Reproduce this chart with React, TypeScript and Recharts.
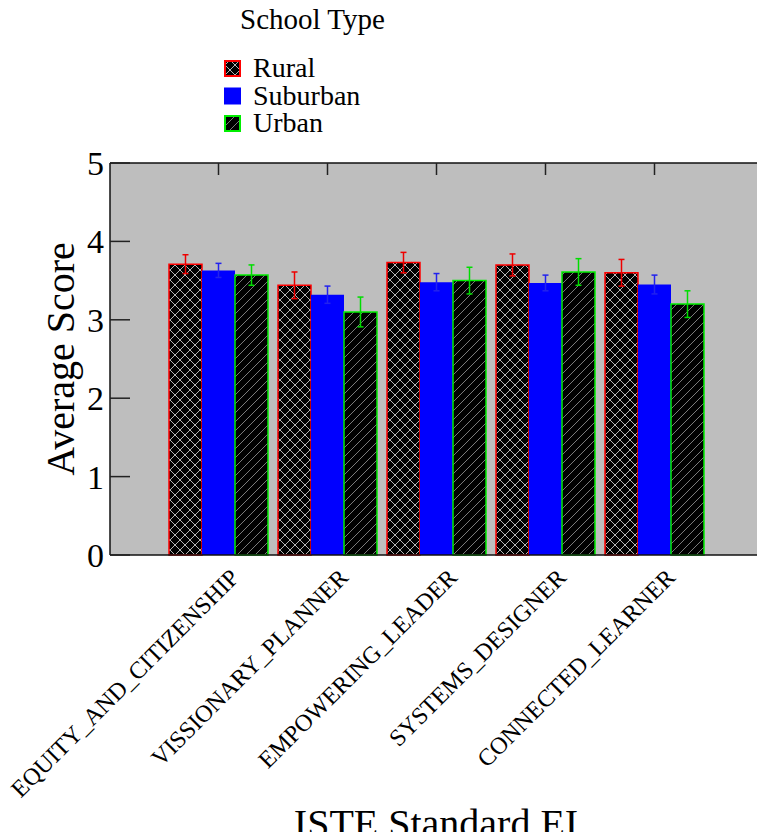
import { BarChart, Bar, XAxis, YAxis, CartesianGrid, ErrorBar, Legend } from "recharts";

const categories = [
  "EQUITY_AND_CITIZENSHIP",
  "VISSIONARY_PLANNER",
  "EMPOWERING_LEADER",
  "SYSTEMS_DESIGNER",
  "CONNECTED_LEARNER",
];
const rural = [3.71, 3.44, 3.73, 3.7, 3.6];
const ruralErr = [0.12, 0.17, 0.13, 0.14, 0.17];
const suburban = [3.63, 3.32, 3.48, 3.47, 3.45];
const suburbanErr = [0.09, 0.11, 0.11, 0.1, 0.12];
const urban = [3.57, 3.1, 3.5, 3.61, 3.2];
const urbanErr = [0.13, 0.19, 0.17, 0.17, 0.17];
const yTicks = [0, 1, 2, 3, 4, 5];

const SERIF = '"Liberation Serif", "Times New Roman", Times, serif';

const data = categories.map((cat, i) => ({
  cat,
  Rural: rural[i],
  ruralErr: ruralErr[i],
  Suburban: suburban[i],
  suburbanErr: suburbanErr[i],
  Urban: urban[i],
  urbanErr: urbanErr[i],
}));

// swatch look for the legend, keyed by series name
const swatch: Record<string, { fill: string; stroke: string }> = {
  Rural: { fill: "url(#ruralPat)", stroke: "#ff0000" },
  Suburban: { fill: "#0000ff", stroke: "#0000ff" },
  Urban: { fill: "url(#urbanPat)", stroke: "#00ee00" },
};

const LeftTick = (props: any) => {
  const { x, y, payload } = props;
  return (
    <g>
      <line x1={x} x2={x + 20} y1={y} y2={y} stroke="#222" strokeWidth={1.5} />
      <text x={x - 6} y={y} dy="0.35em" textAnchor="end" fontSize={34} fontFamily={SERIF} fill="#000">
        {payload.value}
      </text>
    </g>
  );
};

const RightTick = (props: any) => {
  const { x, y } = props;
  return <line x1={x - 20} x2={x} y1={y} y2={y} stroke="#222" strokeWidth={1.5} />;
};

const TopTick = (props: any) => {
  const { x, y } = props;
  return <line x1={x} x2={x} y1={y} y2={y + 12} stroke="#222" strokeWidth={1.5} />;
};

const BottomTick = (props: any) => {
  const { x, y, payload } = props;
  const tx = x + 22;
  const ty = y + 24;
  return (
    <text
      x={tx}
      y={ty}
      transform={`rotate(-45, ${tx}, ${ty})`}
      textAnchor="end"
      fontSize={24}
      fontFamily={SERIF}
      fill="#000"
    >
      {payload.value}
    </text>
  );
};

const LegendBox = (props: any) => {
  const items = props.payload || [];
  return (
    <svg width={757} height={140} style={{ display: "block" }}>
      <text x={240} y={29} fontSize={29} fontFamily={SERIF} fill="#000">
        School Type
      </text>
      {items.map((it: any, i: number) => {
        const s = swatch[it.value];
        const top = 61 + i * 27.5;
        return (
          <g key={it.value}>
            <rect x={225} y={top} width={15} height={15} fill={s.fill} stroke={s.stroke} strokeWidth={2} />
            <text x={253} y={top + 16} fontSize={28} fontFamily={SERIF} fill="#000">
              {it.value}
            </text>
          </g>
        );
      })}
    </svg>
  );
};

export default function App() {
  return (
    <div style={{ position: "absolute", left: 0, top: 0, width: 757, height: 832, overflow: "hidden", background: "#fff" }}>
      <BarChart
        width={775}
        height={832}
        data={data}
        margin={{ top: 22, right: 0, bottom: 0, left: 0 }}
        barCategoryGap={5}
        barGap={0}
      >
        <defs>
          <pattern id="ruralPat" patternUnits="userSpaceOnUse" width={10} height={10}>
            <rect width={10} height={10} fill="#000" />
            <path d="M0,0 L10,10 M10,0 L0,10" stroke="#b4b4b4" strokeWidth={1} />
          </pattern>
          <pattern id="urbanPat" patternUnits="userSpaceOnUse" width={9} height={9}>
            <rect width={9} height={9} fill="#000" />
            <path d="M-2,2 L2,-2 M0,9 L9,0 M7,11 L11,7" stroke="#7a7a7a" strokeWidth={1} />
          </pattern>
        </defs>
        <CartesianGrid fill="#bebebe" horizontal={false} vertical={false} />
        <XAxis
          dataKey="cat"
          height={277}
          padding={{ left: 54, right: 54 }}
          interval={0}
          axisLine={{ stroke: "#111", strokeWidth: 1.5 }}
          tickLine={false}
          tickSize={0}
          tickMargin={0}
          tick={<BottomTick />}
        />
        <XAxis
          xAxisId="top"
          orientation="top"
          dataKey="cat"
          height={1}
          padding={{ left: 54, right: 54 }}
          interval={0}
          axisLine={{ stroke: "#111", strokeWidth: 1.5 }}
          tickLine={false}
          tickSize={0}
          tickMargin={0}
          tick={<TopTick />}
        />
        <YAxis
          width={110}
          domain={[0, 5]}
          ticks={yTicks}
          type="number"
          axisLine={{ stroke: "#111", strokeWidth: 1.5 }}
          tickLine={false}
          tickSize={0}
          tickMargin={0}
          tick={<LeftTick />}
        />
        <YAxis
          yAxisId="right"
          orientation="right"
          width={12}
          domain={[0, 5]}
          ticks={yTicks}
          type="number"
          axisLine={{ stroke: "#111", strokeWidth: 1.5 }}
          tickLine={false}
          tickSize={0}
          tickMargin={0}
          tick={<RightTick />}
        />
        <Legend
          layout="horizontal"
          verticalAlign="top"
          align="left"
          wrapperStyle={{ top: 0, left: 0, width: 757, height: 140 }}
          content={<LegendBox />}
        />
        <Bar dataKey="Rural" fill="url(#ruralPat)" stroke="#ff0000" strokeWidth={1.5} isAnimationActive={false}>
          <ErrorBar dataKey="ruralErr" width={3} stroke="#ee0000" strokeWidth={1.5} />
        </Bar>
        <Bar dataKey="Suburban" fill="#0000ff" isAnimationActive={false}>
          <ErrorBar dataKey="suburbanErr" width={3} stroke="#2222ee" strokeWidth={1.5} />
        </Bar>
        <Bar dataKey="Urban" fill="url(#urbanPat)" stroke="#00ee00" strokeWidth={1.5} isAnimationActive={false}>
          <ErrorBar dataKey="urbanErr" width={3} stroke="#00dd00" strokeWidth={1.5} />
        </Bar>
      </BarChart>
      <svg
        width={757}
        height={832}
        style={{ position: "absolute", left: 0, top: 0, pointerEvents: "none" }}
      >
        <text
          x={74}
          y={359}
          transform="rotate(-90, 74, 359)"
          textAnchor="middle"
          fontSize={40}
          fontFamily={SERIF}
          fill="#000"
        >
          Average Score
        </text>
        <text x={436} y={837} textAnchor="middle" fontSize={40} fontFamily={SERIF} fill="#000">
          ISTE Standard EI
        </text>
      </svg>
    </div>
  );
}
